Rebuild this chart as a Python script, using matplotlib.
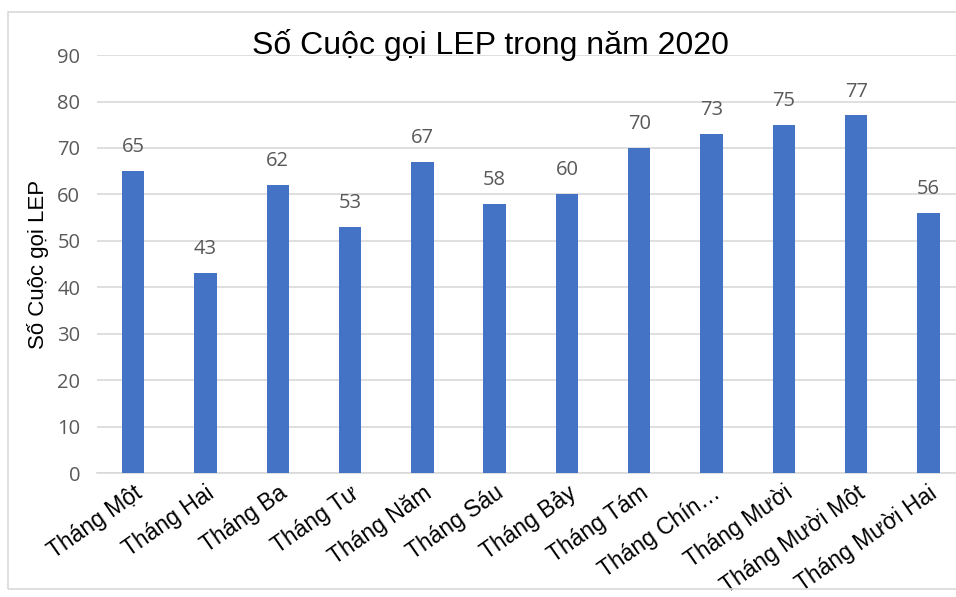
import matplotlib.pyplot as plt
from matplotlib.patches import Rectangle

months = ['Tháng Một', 'Tháng Hai', 'Tháng Ba', 'Tháng Tư', 'Tháng Năm', 'Tháng Sáu',
          'Tháng Bảy', 'Tháng Tám', 'Tháng Chín…', 'Tháng Mười', 'Tháng Mười Một',
          'Tháng Mười Hai']
calls = [65, 43, 62, 53, 67, 58, 60, 70, 73, 75, 77, 56]
yticks = [0, 10, 20, 30, 40, 50, 60, 70, 80, 90]

bar_color = '#4472c4'
gray = '#595959'

fig = plt.figure(figsize=(9.56, 5.97), dpi=100)
fig.patches.append(Rectangle((8 / 956, 8 / 597), 1.0, 577 / 597, transform=fig.transFigure,
                             fill=False, edgecolor='#d9d9d9', linewidth=1.2))

ax = fig.add_axes([0.1015, 0.2077, 0.9075, 0.700])
x = range(len(months))
ax.bar(x, calls, width=0.31, color=bar_color, zorder=3)
for i, v in enumerate(calls):
    ax.text(i, v + 3.0, str(v), ha='center', va='bottom', fontsize=14.5,
            color=gray, family='Open Sans')

ax.set_xlim(-0.5, len(months) - 0.5)
ax.set_ylim(0, 90)
ax.set_yticks(yticks)
ax.set_yticklabels([str(t) for t in yticks], fontsize=14.5, color=gray, family='Open Sans')
ax.yaxis.grid(True, color='#d9d9d9', linewidth=1.2, zorder=0)
ax.tick_params(axis='y', length=0, pad=12)
ax.tick_params(axis='x', length=0, pad=6)
ax.set_xticks(list(x))
ax.set_xticklabels(months, rotation=35, ha='right', rotation_mode='anchor',
                   fontsize=16.5, family='Liberation Sans')
for s in ['top', 'right', 'left']:
    ax.spines[s].set_visible(False)
ax.spines['bottom'].set_color('#d9d9d9')
ax.spines['bottom'].set_linewidth(1.2)

ax.set_ylabel('Số Cuộc gọi LEP', fontsize=16, family='Liberation Sans', labelpad=6)
fig.text(0.5125, 0.925, 'Số Cuộc gọi LEP trong năm 2020', ha='center', va='center',
         fontsize=23, family='Liberation Sans')

fig.savefig('out.png', dpi=100)
